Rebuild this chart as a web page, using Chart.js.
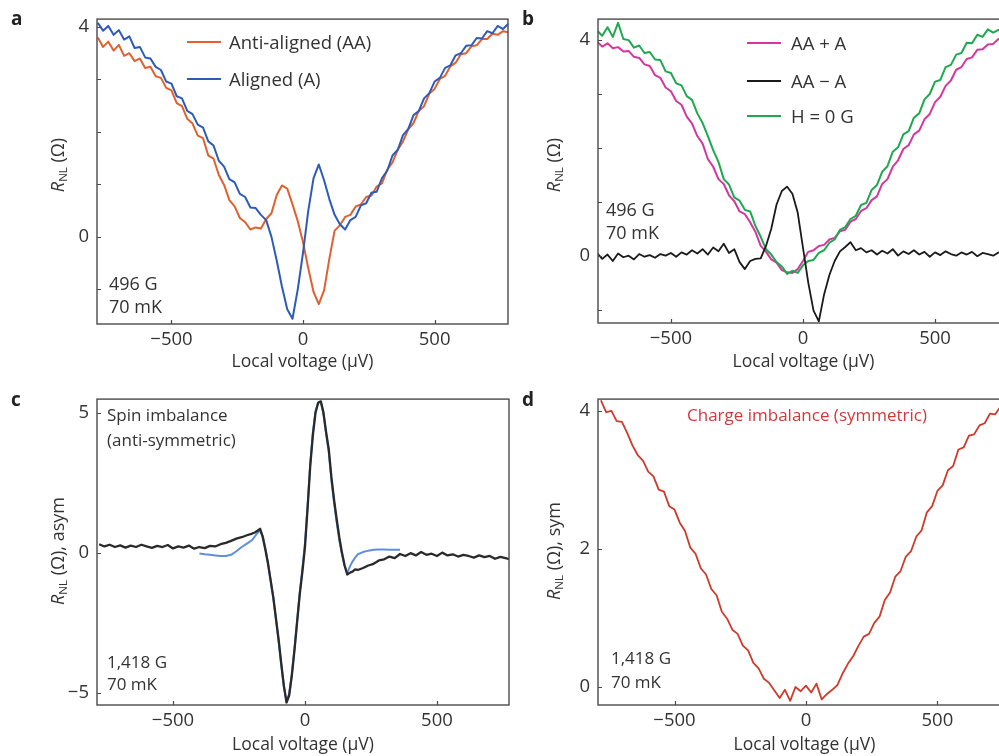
<!DOCTYPE html>
<html>
<head>
<meta charset="utf-8">
<script src="https://cdn.jsdelivr.net/npm/chart.js@4.4.1/dist/chart.umd.min.js"></script>
<style>
  html, body { margin: 0; padding: 0; width: 999px; height: 756px; overflow: hidden; background: #fff; }
  body { position: relative; font-family: 'Open Sans', sans-serif; color: #333; }
  canvas { position: absolute; }
  .txt { position: absolute; font-size: 17px; line-height: 1; white-space: nowrap; color: #333; }
  .big { font-size: 18.5px; }
  .letter { position: absolute; font-size: 19px; font-weight: bold; color: #222; line-height: 1; }
  .ytitle { position: absolute; font-size: 18px; white-space: nowrap; transform: translate(-50%, -50%) rotate(-90deg); color: #333; }
  .ytitle sub { font-size: 11.5px; vertical-align: -3px; }
  .key { position: absolute; height: 0; width: 34px; border-top: 2px solid; }
</style>
</head>
<body>
<canvas id="chartA" width="510" height="380" style="left:0;top:0"></canvas>
<canvas id="chartB" width="505" height="380" style="left:510px;top:0"></canvas>
<canvas id="chartC" width="510" height="376" style="left:0;top:380px"></canvas>
<canvas id="chartD" width="505" height="376" style="left:510px;top:380px"></canvas>

<div class="letter" style="left:11px;top:9px">a</div>
<div class="letter" style="left:522px;top:9px">b</div>
<div class="letter" style="left:11px;top:390px">c</div>
<div class="letter" style="left:522px;top:390px">d</div>

<div class="ytitle" style="left:57px;top:165px"><i>R</i><sub>NL</sub> (Ω)</div>
<div class="ytitle" style="left:553px;top:165px"><i>R</i><sub>NL</sub> (Ω)</div>
<div class="ytitle" style="left:57px;top:551px"><i>R</i><sub>NL</sub> (Ω), asym</div>
<div class="ytitle" style="left:553px;top:551px"><i>R</i><sub>NL</sub> (Ω), sym</div>

<!-- legend a -->
<div class="key" style="left:187px;top:41px;border-color:#e0612f"></div>
<div class="txt big" style="left:229px;top:33px">Anti-aligned (AA)</div>
<div class="key" style="left:187px;top:78px;border-color:#2e5bb8"></div>
<div class="txt big" style="left:229px;top:70px">Aligned (A)</div>
<div class="txt" style="left:109px;top:274px;font-size:18px">496 G</div>
<div class="txt" style="left:109px;top:297px;font-size:18px">70 mK</div>

<!-- legend b -->
<div class="key" style="left:747px;top:42px;border-color:#d2389e"></div>
<div class="txt big" style="left:791px;top:34px">AA + A</div>
<div class="key" style="left:747px;top:80px;border-color:#1a1a1a"></div>
<div class="txt big" style="left:791px;top:72px">AA − A</div>
<div class="key" style="left:747px;top:115px;border-color:#1fa84f"></div>
<div class="txt big" style="left:791px;top:107px">H = 0 G</div>
<div class="txt" style="left:606px;top:200px;font-size:18px">496 G</div>
<div class="txt" style="left:606px;top:223px;font-size:18px">70 mK</div>

<!-- notes c -->
<div class="txt" style="left:107px;top:406px">Spin imbalance</div>
<div class="txt" style="left:107px;top:431px">(anti-symmetric)</div>
<div class="txt" style="left:107px;top:653px">1,418 G</div>
<div class="txt" style="left:107px;top:675px">70 mK</div>

<!-- notes d -->
<div class="txt" style="left:687px;top:406px;color:#d0393b">Charge imbalance (symmetric)</div>
<div class="txt" style="left:611px;top:649px">1,418 G</div>
<div class="txt" style="left:611px;top:673px">70 mK</div>

<script>
// local voltage grid (µV), panels a, b, d
const volts = [-780,-760,-740,-720,-700,-680,-660,-640,-620,-600,
  -580,-560,-540,-520,-500,-480,-460,-440,-420,-400,
  -380,-360,-340,-320,-300,-280,-260,-240,-220,-200,
  -180,-160,-140,-120,-100,-80,-60,-40,-20,0,
  20,40,60,80,100,120,140,160,180,200,
  220,240,260,280,300,320,340,360,380,400,
  420,440,460,480,500,520,540,560,580,600,
  620,640,660,680,700,720,740,760,780];

// panel a
const aligned = [4.08,3.93,4.02,3.85,3.94,3.76,3.82,3.6,3.62,3.42,
  3.4,3.24,3.18,2.96,2.92,2.68,2.64,2.4,2.34,2.14,
  2.08,1.82,1.74,1.45,1.34,1.1,1.04,0.82,0.76,0.56,
  0.55,0.42,0.32,0.0,-0.45,-0.95,-1.38,-1.56,-1.0,-0.3,
  0.5,1.12,1.38,1.08,0.72,0.42,0.24,0.14,0.32,0.38,
  0.6,0.64,0.84,0.86,1.12,1.26,1.55,1.66,1.94,2.06,
  2.32,2.4,2.64,2.74,2.96,3.03,3.22,3.27,3.46,3.5,
  3.64,3.65,3.79,3.78,3.92,3.88,4.02,3.96,4.06];
const antiAligned = [3.8,3.62,3.72,3.55,3.66,3.45,3.5,3.35,3.4,3.22,
  3.24,3.06,3.03,2.84,2.79,2.55,2.49,2.25,2.16,1.93,
  1.88,1.55,1.49,1.18,0.99,0.7,0.58,0.36,0.28,0.14,
  0.18,0.16,0.34,0.45,0.8,0.98,0.92,0.62,0.3,-0.1,
  -0.6,-1.05,-1.28,-1.02,-0.42,0.12,0.22,0.38,0.42,0.58,
  0.62,0.76,0.79,0.96,1.02,1.28,1.42,1.66,1.82,2.05,
  2.17,2.4,2.49,2.73,2.82,3.01,3.07,3.25,3.32,3.48,
  3.5,3.63,3.65,3.77,3.77,3.87,3.85,3.92,3.9];

// panel b
const sumAA_A = [3.97,3.88,3.94,3.85,3.87,3.79,3.8,3.69,3.67,3.55,
  3.52,3.35,3.3,3.12,3.05,2.87,2.8,2.58,2.45,2.22,
  2.08,1.79,1.65,1.42,1.33,1.12,1.01,0.82,0.77,0.62,
  0.44,0.18,0.07,-0.07,-0.13,-0.27,-0.31,-0.32,-0.25,-0.1,
  0.07,0.1,0.18,0.2,0.3,0.33,0.45,0.48,0.63,0.68,
  0.83,0.88,1.03,1.1,1.33,1.42,1.65,1.77,1.98,2.05,
  2.25,2.32,2.53,2.63,2.85,2.95,3.15,3.25,3.45,3.5,
  3.65,3.68,3.82,3.83,3.92,3.93,4.02,4.0,4.06];
const diffAA_A = [0.05,-0.06,0.02,-0.1,0.04,-0.03,0.0,-0.07,0.03,-0.02,
  0.01,-0.04,0.03,0.0,0.05,-0.02,0.06,0.02,0.1,0.04,
  0.12,0.02,0.15,0.08,0.22,0.05,0.12,-0.12,-0.25,-0.1,
  -0.06,-0.05,0.18,0.5,0.95,1.2,1.28,1.15,0.8,0.15,
  -0.5,-1.02,-1.22,-0.72,-0.36,-0.1,0.08,0.16,0.25,0.1,
  0.14,0.06,0.1,0.02,0.09,0.04,0.12,0.0,0.08,0.03,
  0.1,0.02,0.07,-0.02,0.06,0.01,0.08,0.03,0.0,0.06,
  0.02,0.07,-0.01,0.05,0.03,0.0,0.06,0.02,0.04];
const zeroField = [4.18,4.08,4.24,4.06,4.32,4.02,4.0,3.86,3.9,3.76,
  3.78,3.64,3.63,3.42,3.39,3.2,3.16,2.96,2.89,2.64,
  2.46,2.22,1.96,1.74,1.42,1.32,1.08,1.02,0.85,0.82,
  0.55,0.35,0.12,0.02,-0.12,-0.2,-0.34,-0.28,-0.32,-0.18,
  -0.1,-0.08,0.05,0.1,0.24,0.3,0.48,0.53,0.68,0.74,
  0.94,0.98,1.22,1.31,1.56,1.66,1.93,2.01,2.25,2.31,
  2.56,2.64,2.9,3.0,3.23,3.26,3.5,3.54,3.73,3.76,
  3.95,3.94,4.1,4.06,4.2,4.14,4.19,4.1,4.12];

// panel c: finer grid through the centre
const voltsC = [-780,-760,-740,-720,-700,-680,-660,-640,-620,-600,
  -580,-560,-540,-520,-500,-480,-460,-440,-420,-400,
  -380,-360,-340,-320,-300,-280,-260,-240,-220,
  -200,-190,-180,-170,-160,-150,-140,-130,-120,-110,
  -100,-90,-80,-70,-60,-50,-40,-30,-20,-10,
  0,10,20,30,40,50,60,70,80,90,
  100,110,120,130,140,150,160,170,180,190,200,
  220,240,260,280,300,320,340,360,380,400,
  420,440,460,480,500,520,540,560,580,600,
  620,640,660,680,700,720,740,760,780];
const spinAsym = [0.3,0.22,0.28,0.2,0.26,0.18,0.25,0.2,0.28,0.22,
  0.17,0.24,0.2,0.27,0.15,0.22,0.18,0.25,0.14,0.2,
  0.16,0.24,0.22,0.3,0.35,0.42,0.5,0.55,0.62,
  0.68,0.72,0.78,0.85,0.55,0.1,-0.4,-1.0,-1.6,-2.35,
  -3.1,-3.95,-4.75,-5.35,-5.1,-4.4,-3.5,-2.5,-1.5,-0.7,
  0.2,1.6,3.1,4.2,5.0,5.35,5.4,5.0,4.3,3.7,
  2.7,1.9,1.2,0.55,0.0,-0.45,-0.78,-0.72,-0.68,-0.6,-0.62,
  -0.55,-0.46,-0.4,-0.28,-0.24,-0.14,-0.2,-0.05,-0.12,-0.02,
  -0.1,0.02,-0.08,-0.04,-0.12,0.0,-0.1,-0.06,-0.14,-0.08,
  -0.12,-0.18,-0.1,-0.16,-0.12,-0.22,-0.15,-0.2,-0.25];
const spinFit = [null,null,null,null,null,null,null,null,null,null,
  null,null,null,null,null,null,null,null,null,-0.03,
  -0.06,-0.08,-0.1,-0.12,-0.12,-0.08,0.05,0.2,0.32,
  0.45,0.58,0.7,0.8,0.6,0.15,-0.38,-1.0,-1.62,-2.4,
  -3.15,-4.0,-4.8,-5.3,-5.05,-4.35,-3.45,-2.45,-1.45,-0.6,
  0.35,1.7,3.2,4.3,5.05,5.35,5.38,4.95,4.25,3.6,
  2.6,1.8,1.1,0.45,-0.05,-0.48,-0.72,-0.5,-0.32,-0.18,-0.06,
  0.02,0.07,0.1,0.11,0.11,0.1,0.1,0.1,null,null,
  null,null,null,null,null,null,null,null,null,null,
  null,null,null,null,null,null,null,null,null];

// panel d
const chargeSym = [4.15,3.98,4.0,3.85,3.84,3.68,3.5,3.36,3.28,3.12,
  3.05,2.86,2.83,2.62,2.57,2.38,2.26,2.02,1.93,1.72,
  1.63,1.42,1.33,1.09,0.99,0.83,0.77,0.6,0.53,0.35,
  0.27,0.12,0.06,-0.05,-0.16,-0.04,-0.2,0.0,-0.06,0.02,
  -0.08,0.05,-0.18,-0.1,-0.04,0.03,0.2,0.34,0.45,0.6,
  0.73,0.77,0.93,1.02,1.26,1.37,1.6,1.68,1.89,1.97,
  2.18,2.27,2.53,2.62,2.84,2.92,3.14,3.2,3.44,3.47,
  3.64,3.66,3.79,3.82,3.96,3.95,4.06,4.02,4.12];

// tick positions, and which of them carry a label
const xTicks = [-500, 0, 500];
const yTicksA = [-1, 0, 1, 2, 3, 4];
const yLabelsA = [0, 4];
const yTicksB = [-1, 0, 1, 2, 3, 4];
const yLabelsB = [0, 4];
const yTicksC = [-5, 0, 5];
const yLabelsC = [-5, 0, 5];
const yTicksD = [0, 2, 4];
const yLabelsD = [0, 2, 4];

Chart.defaults.font.family = "'Open Sans', sans-serif";
Chart.defaults.color = '#333';

function fmt(v) {
  return v < 0 ? '\u2212' + Math.abs(v) : String(v);
}

function pts(xs, ys) {
  return xs.map((x, i) => ({ x: x, y: ys[i] }));
}

// box round the plot plus inward tick marks
const frame = {
  id: 'frame',
  afterDraw(chart) {
    const { ctx, chartArea: a, scales: { x, y } } = chart;
    ctx.save();
    ctx.strokeStyle = '#4a4a4a';
    ctx.lineWidth = 1.4;
    ctx.strokeRect(a.left, a.top, a.right - a.left, a.bottom - a.top);
    ctx.beginPath();
    x.ticks.forEach(t => {
      const px = Math.round(x.getPixelForValue(t.value)) + 0.5;
      ctx.moveTo(px, a.bottom); ctx.lineTo(px, a.bottom - 4);
    });
    y.ticks.forEach(t => {
      const py = Math.round(y.getPixelForValue(t.value)) + 0.5;
      ctx.moveTo(a.left, py); ctx.lineTo(a.left + 4, py);
    });
    ctx.lineWidth = 1.2;
    ctx.stroke();
    ctx.restore();
  }
};

function line(xs, ys, color, width) {
  return { data: pts(xs, ys), borderColor: color, borderWidth: width, spanGaps: false };
}

function panel(id, o) {
  return new Chart(document.getElementById(id), {
    type: 'line',
    data: { datasets: o.datasets },
    options: {
      responsive: false,
      animation: false,
      layout: { padding: { top: 16, right: o.padRight, left: 0, bottom: 0 } },
      plugins: { legend: { display: false }, tooltip: { enabled: false } },
      elements: { point: { radius: 0 }, line: { tension: 0, borderJoinStyle: 'round' } },
      scales: {
        x: {
          type: 'linear', min: o.xMin, max: o.xMax,
          grid: { display: false, drawTicks: false }, border: { display: false },
          afterBuildTicks: s => { s.ticks = xTicks.map(v => ({ value: v })); },
          ticks: { padding: 5, maxRotation: 0, autoSkip: false, font: { size: 18.5 }, color: '#333', callback: fmt },
          title: { display: true, text: 'Local voltage (\u03bcV)', font: { size: 17.5 }, color: '#333', padding: { top: 0, bottom: o.titlePad } },
          afterFit: s => { s.height = o.xH; }
        },
        y: {
          min: o.yMin, max: o.yMax,
          grid: { display: false, drawTicks: false }, border: { display: false },
          afterBuildTicks: s => { s.ticks = o.yTicks.map(v => ({ value: v })); },
          ticks: { padding: 8, font: { size: 18.5 }, color: '#333', autoSkip: false,
            callback: v => o.yLabels.includes(v) ? fmt(v) : '' },
          afterFit: s => { s.width = o.yW; }
        }
      }
    },
    plugins: [frame]
  });
}

panel('chartA', {
  datasets: [line(volts, aligned, '#2e5bb8', 2), line(volts, antiAligned, '#e0612f', 2)],
  xMin: -783, xMax: 779, yMin: -1.66, yMax: 4.15, yTicks: yTicksA, yLabels: yLabelsA,
  yW: 97, xH: 56, padRight: 2, titlePad: 7
});

panel('chartB', {
  datasets: [line(volts, diffAA_A, '#1a1a1a', 1.8), line(volts, zeroField, '#1fa84f', 2), line(volts, sumAA_A, '#d2389e', 2)],
  xMin: -776, xMax: 780, yMin: -1.25, yMax: 4.39, yTicks: yTicksB, yLabels: yLabelsB,
  yW: 88, xH: 57, padRight: 6, titlePad: 7
});

panel('chartC', {
  datasets: [line(voltsC, spinAsym, '#2a2a2a', 2.3), line(voltsC, spinFit, '#5e8fd8', 2)],
  xMin: -788, xMax: 773, yMin: -5.44, yMax: 5.48, yTicks: yTicksC, yLabels: yLabelsC,
  yW: 97, xH: 51, padRight: 1, titlePad: 0
});

panel('chartD', {
  datasets: [line(volts, chargeSym, '#cc3b2c', 1.8)],
  xMin: -791, xMax: 780, yMin: -0.26, yMax: 4.17, yTicks: yTicksD, yLabels: yLabelsD,
  yW: 88, xH: 51, padRight: 4, titlePad: 0
});
</script>
</body>
</html>
